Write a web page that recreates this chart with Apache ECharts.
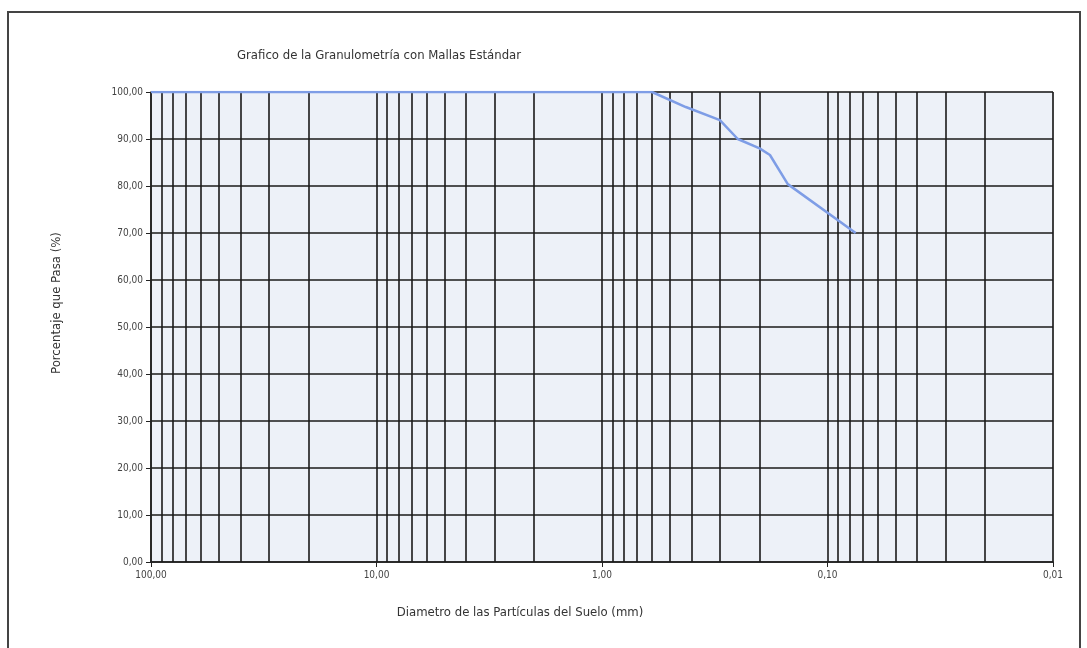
<!DOCTYPE html>
<html>
<head>
<meta charset="utf-8">
<script src="https://cdn.jsdelivr.net/npm/echarts@6/dist/echarts.min.js"></script>
<style>
  html, body { margin: 0; padding: 0; background: #fff; }
  #chart { width: 1087px; height: 648px; }
</style>
</head>
<body>
<div id="chart"></div>
<script>
// diámetros de mallas (mm) y porcentaje que pasa
const diametros = [100, 76.2, 50.8, 38.1, 25.4, 19.05, 9.525, 4.75, 2.0, 0.85, 0.6, 0.425, 0.3, 0.25, 0.2, 0.18, 0.15, 0.075]
const pasa = [100, 100, 100, 100, 100, 100, 100, 100, 100, 100, 100, 96.8, 94.0, 90.0, 88.0, 86.6, 80.4, 70.0]

// líneas de la rejilla logarítmica (secundarias)
const lineasMenores = [
  90, 80, 70, 60, 50, 40, 30, 20,
  9, 8, 7, 6, 5, 4, 3, 2,
  0.9, 0.8, 0.7, 0.6, 0.5, 0.4, 0.3, 0.2,
  0.09, 0.08, 0.07, 0.06, 0.05, 0.04, 0.03, 0.02,
]

const FONT = '"Liberation Sans Narrow", "DejaVu Sans Condensed", sans-serif'

const fmt = (v) => v.toFixed(2).replace('.', ',')

const chart = echarts.init(document.getElementById('chart'))

chart.setOption({
  animation: false,
  backgroundColor: '#fff',
  title: {
    text: 'Grafico de la Granulometría con Mallas Estándar',
    left: 232,
    top: 44,
    textStyle: { fontFamily: FONT, fontSize: 13, fontWeight: 'normal', color: '#333' },
  },
  graphic: [
    {
      type: 'polyline',
      shape: { points: [[8, 660], [8, 12], [1080, 12], [1080, 660]] },
      style: { stroke: '#444', lineWidth: 2, fill: null },
      silent: true,
    },
  ],
  grid: {
    left: 151,
    right: 34,
    top: 92,
    bottom: 86,
    show: true,
    backgroundColor: '#edf1f8',
    borderColor: '#bbb',
    borderWidth: 1,
  },
  xAxis: {
    type: 'log',
    logBase: 10,
    min: 0.01,
    max: 100,
    inverse: true,
    name: 'Diametro de las Partículas del Suelo (mm)',
    nameLocation: 'middle',
    nameGap: 44,
    nameTextStyle: { fontFamily: FONT, fontSize: 13, color: '#333', padding: [0, 164, 0, 0] },
    axisLine: { lineStyle: { color: '#222', width: 1.5 } },
    axisTick: { show: true, length: 5, lineStyle: { color: '#222' } },
    axisLabel: { fontFamily: FONT, fontSize: 10, color: '#444', formatter: fmt, margin: 8 },
    splitLine: { show: true, lineStyle: { color: '#1a1a1a', width: 1.6 } },
  },
  yAxis: {
    type: 'value',
    min: 0,
    max: 100,
    interval: 10,
    name: 'Porcentaje que Pasa (%)',
    nameLocation: 'middle',
    nameGap: 88,
    nameTextStyle: { fontFamily: FONT, fontSize: 13, color: '#333', padding: [0, 0, 0, 48] },
    axisLine: { show: true, lineStyle: { color: '#222', width: 1.5 } },
    axisTick: { show: true, length: 5, lineStyle: { color: '#222' } },
    axisLabel: { fontFamily: FONT, fontSize: 10, color: '#444', formatter: fmt, margin: 8 },
    splitLine: { show: true, lineStyle: { color: '#1a1a1a', width: 1.6 } },
  },
  series: [
    {
      type: 'line',
      data: diametros.map((d, i) => [d, pasa[i]]),
      showSymbol: false,
      symbol: 'none',
      z: 5,
      lineStyle: { color: '#7e9de6', width: 2.5 },
      markLine: {
        silent: true,
        symbol: 'none',
        label: { show: false },
        lineStyle: { color: '#1a1a1a', width: 1.6, type: 'solid' },
        data: lineasMenores.map((v) => ({ xAxis: v })),
        z: 1,
      },
    },
  ],
})
</script>
</body>
</html>
